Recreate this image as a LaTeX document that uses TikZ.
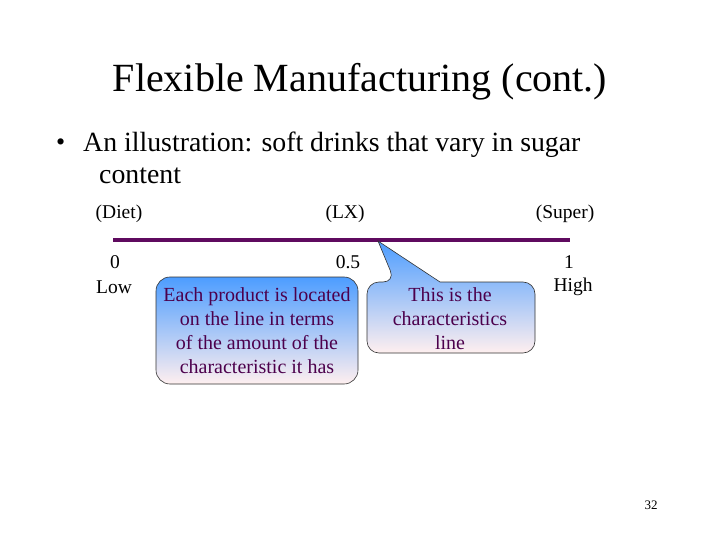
\documentclass[tikz,border=0pt]{standalone}
\usepackage{fontspec}
\setmainfont{Liberation Serif}
\begin{document}
\begin{tikzpicture}[x=1pt,y=-1pt,
  lbl/.style={font=\fontsize{19.5}{22}\selectfont, inner sep=0pt},
  callout/.style={draw=black!80, line width=0.6pt, top color=blue!55!cyan!70, bottom color=pink!25!white, shading angle=0},
  ctext/.style={font=\fontsize{20}{24}\selectfont, text=violet!60!black, align=center, inner sep=0pt}]
\useasboundingbox[fill=white] (0,0) rectangle (720,540);
\node (title) at (360,82) {\fontsize{40}{44}\selectfont Flexible Manufacturing (cont.)};
\node[anchor=west, inner sep=0pt] (bullet) at (56,145) {\fontsize{26}{30}\selectfont •};
\node[anchor=west, inner sep=0pt] (l1) at (83,145) {\fontsize{27.8}{30}\selectfont An illustration: soft drinks that vary in sugar};
\node[anchor=west, inner sep=0pt] (l2) at (99,176) {\fontsize{27.8}{30}\selectfont content};
\node[lbl] (diet) at (119,214) {(Diet)};
\node[lbl] (lx) at (345,214) {(LX)};
\node[lbl] (super) at (565,214) {(Super)};
\coordinate (la) at (113,240); \coordinate (lb) at (570,240);
\draw[line width=4.5pt, color={rgb,255:red,95;green,10;blue,95}] (la) -- (lb);
\node[lbl] (z) at (115,262) {0};
\node[lbl] (low) at (114,287) {Low};
\node[lbl] (half) at (348,262) {0.5};
\node[lbl] (one) at (569,262) {1};
\node[lbl] (high) at (573,287) {High};
\shade[callout, rounded corners=14pt] (156,277) rectangle (358,384);
\coordinate (tip) at (378,241);
\shade[callout] [rounded corners=12pt] (367,310) |- (395,282) [sharp corners] -- (tip) -- (440,282) [rounded corners=12pt] -| (535,320) |- (367,353) -- cycle;
\node[ctext] (t1) at (257,331) {Each product is located\\on the line in terms\\of the amount of the\\characteristic it has};
\node[ctext] (t2) at (450,319) {This is the\\characteristics\\line};
\node (num) at (651,505) {\fontsize{13}{15}\selectfont 32};
\end{tikzpicture}
\end{document}
